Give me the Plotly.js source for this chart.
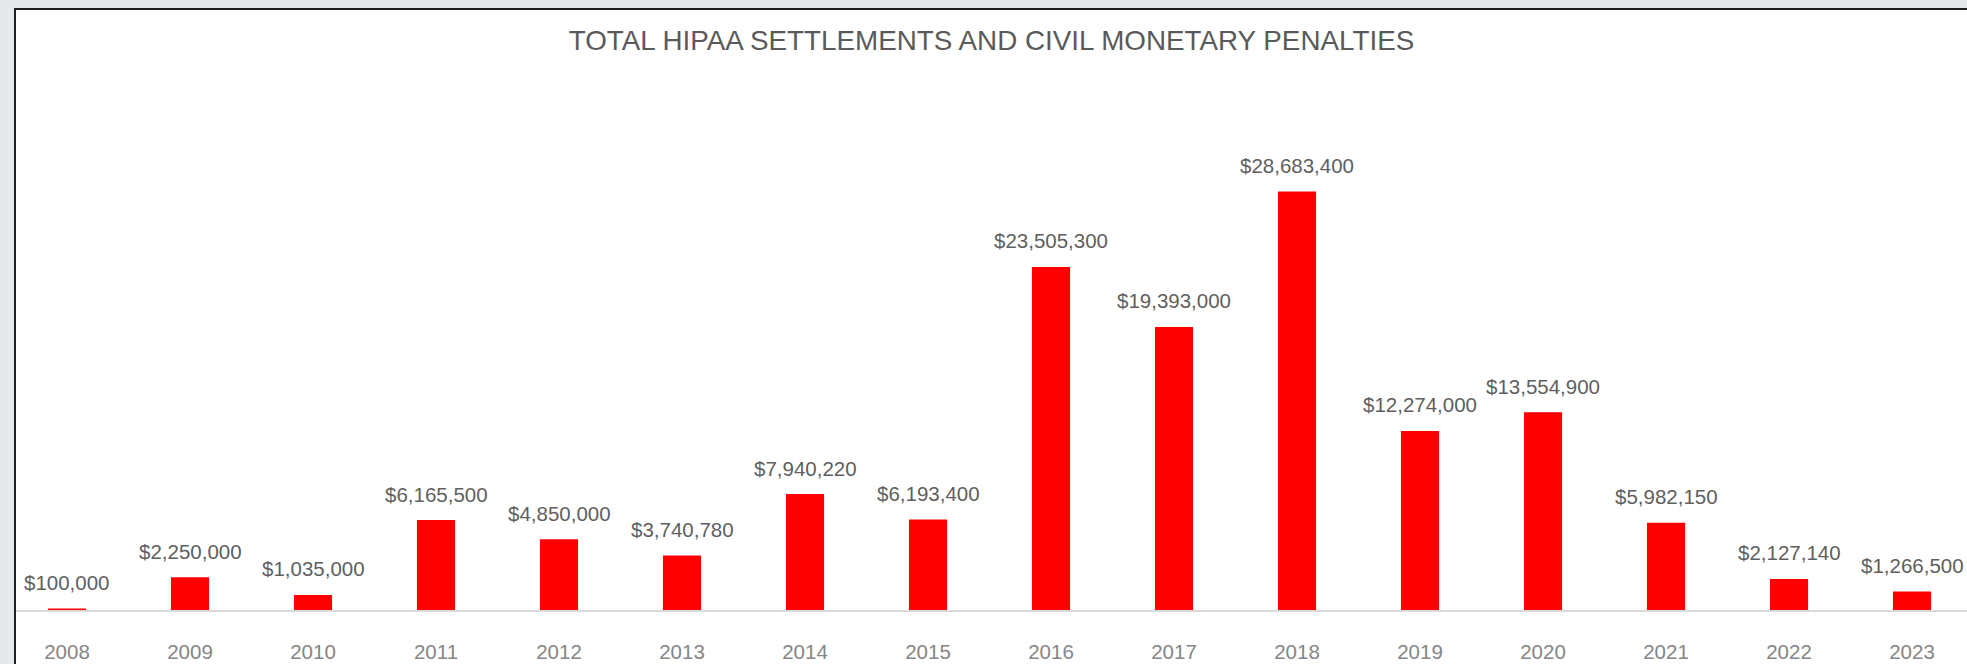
<!DOCTYPE html>
<html>
<head>
<meta charset="utf-8">
<script src="https://cdn.plot.ly/plotly-3.0.1.min.js"></script>
<style>
  html, body { margin: 0; padding: 0; width: 1967px; height: 664px; overflow: hidden; background: #e6e9ec; }
  #frame { position: absolute; left: 14px; top: 8px; width: 1953px; height: 656px;
           border-left: 2px solid #1e1e1e; border-top: 2px solid #1e1e1e; background: #ffffff; box-sizing: border-box; }
  #chart { position: absolute; left: 0; top: 0; width: 1951px; height: 654px; }
</style>
</head>
<body>
<div id="frame"><div id="chart"></div></div>
<script>
const years = ["2008","2009","2010","2011","2012","2013","2014","2015","2016","2017","2018","2019","2020","2021","2022","2023"];
const totals = [100000, 2250000, 1035000, 6165500, 4850000, 3740780, 7940220, 6193400, 23505300, 19393000, 28683400, 12274000, 13554900, 5982150, 2127140, 1266500];
const chartTitle = "TOTAL HIPAA SETTLEMENTS AND CIVIL MONETARY PENALTIES";

const FONT = '"Liberation Sans", Arial, sans-serif';

function money(v) {
  return "$" + String(v).replace(/\B(?=(\d{3})+(?!\d))/g, ",");
}

const trace = {
  type: "bar",
  x: years,
  y: totals,
  marker: { color: "#ff0000", line: { width: 0 } },
  hoverinfo: "x+y"
};

const annotations = years.map((yr, i) => ({
  x: i, y: totals[i], xref: "x", yref: "y",
  text: money(totals[i]),
  showarrow: false,
  xanchor: "center",
  yanchor: "middle",
  yshift: 26,
  font: { family: FONT, size: 20.5, color: "#5f5f5f" }
}));

const layout = {
  width: 1951, height: 654,
  margin: { l: 0, r: 0, t: 133, b: 54 },
  paper_bgcolor: "#ffffff",
  plot_bgcolor: "#ffffff",
  bargap: 0.69,
  showlegend: false,
  title: {
    text: chartTitle,
    x: 0.5, xref: "container", xanchor: "center",
    y: 1 - 30 / 654, yref: "container", yanchor: "middle",
    font: { family: FONT, size: 27.8, color: "#5a5a5a" }
  },
  xaxis: {
    type: "category",
    range: [-0.4146, 15.447],
    showline: true, linecolor: "#d9d9d9", linewidth: 2,
    showgrid: false, zeroline: false,
    ticks: "", ticklabelstandoff: 22,
    tickfont: { family: FONT, size: 20.5, color: "#868686" }
  },
  yaxis: {
    range: [0, 32000000],
    visible: false, showgrid: false, zeroline: false
  },
  annotations: annotations
};

Plotly.newPlot("chart", [trace], layout, { displayModeBar: false, staticPlot: true });
</script>
</body>
</html>
